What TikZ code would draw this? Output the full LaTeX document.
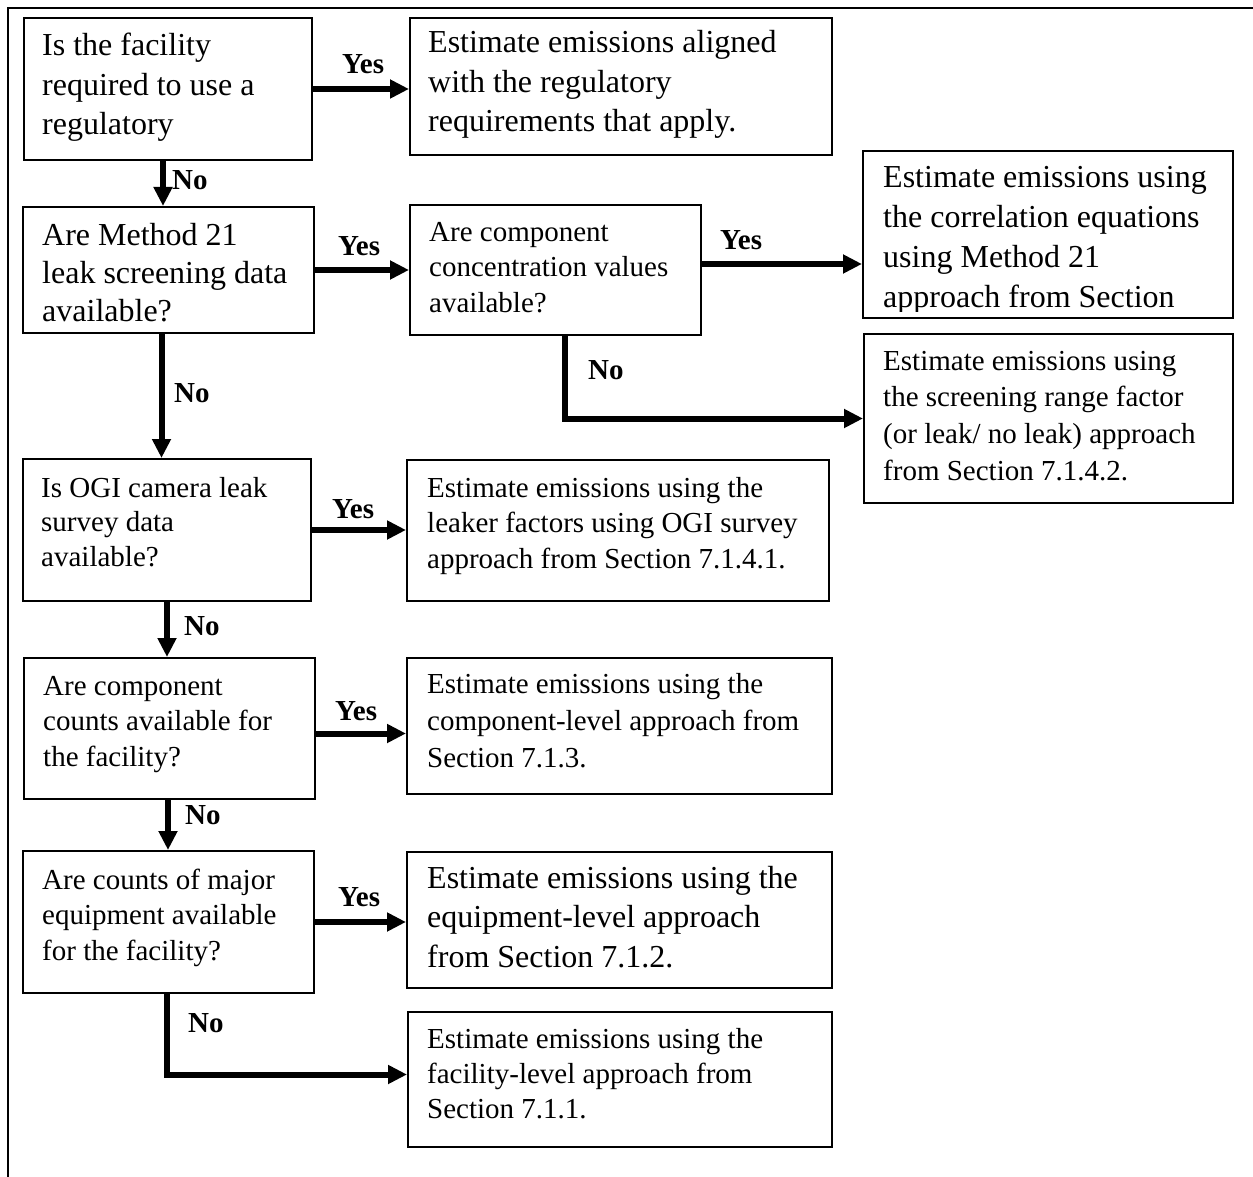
\documentclass[tikz,border=0pt]{standalone}
\usepackage{fontspec}
\setmainfont{Liberation Serif}
\usetikzlibrary{arrows.meta}
\begin{document}
\begin{tikzpicture}[x=1pt,y=-1pt,
  box/.style={draw=black, line width=2pt, inner sep=0pt, anchor=north west},
  txt/.style={anchor=base west, inner sep=0pt, align=flush left, text width=#1},
  big/.style={font=\fontsize{32}{39.5}\selectfont},
  small/.style={font=\fontsize{29}{35.5}\selectfont},
  flow/.style={line width=6pt, -{Triangle[length=19pt,width=18pt]}},
  answer/.style={anchor=base west, inner sep=0pt, font=\fontsize{29}{35}\selectfont\bfseries},
]
\useasboundingbox (0,0) rectangle (1253,1177);

% page frame: top and left edges only
\coordinate (fbl) at (8,1177);
\coordinate (ftl) at (8,8);
\coordinate (ftr) at (1253,8);
\draw[line width=2pt] (fbl) -- (ftl) -- (ftr);

% ---------- boxes ----------
\node[box, minimum width=288pt, minimum height=142pt] (q1)  at (23,17)  {};
\node[box, minimum width=422pt, minimum height=137pt] (r1)  at (409,17) {};
\node[box, minimum width=291pt, minimum height=126pt] (q2)  at (22,206) {};
\node[box, minimum width=291pt, minimum height=130pt] (q3)  at (409,204) {};
\node[box, minimum width=370pt, minimum height=167pt] (r3a) at (862,150) {};
\node[box, minimum width=369pt, minimum height=169pt] (r3b) at (863,333) {};
\node[box, minimum width=288pt, minimum height=142pt] (q4)  at (22,458) {};
\node[box, minimum width=422pt, minimum height=141pt] (r4)  at (406,459) {};
\node[box, minimum width=291pt, minimum height=141pt] (q5)  at (23,657) {};
\node[box, minimum width=425pt, minimum height=136pt] (r5)  at (406,657) {};
\node[box, minimum width=291pt, minimum height=142pt] (q6)  at (22,850) {};
\node[box, minimum width=425pt, minimum height=136pt] (r6)  at (406,851) {};
\node[box, minimum width=424pt, minimum height=135pt] (r7)  at (407,1011) {};

% ---------- box texts ----------
\node[txt=265pt, big]   (q1t) at (42,56)   {Is the facility\\required to use a\\regulatory};
\node[txt=400pt, big]   (r1t) at (428,53)  {Estimate emissions aligned\\with the regulatory\\requirements that apply.};
\node[txt=265pt, font=\fontsize{32}{38.5}\selectfont] (q2t) at (42,245) {Are Method 21\\leak screening data\\available?};
\node[txt=265pt, small] (q3t) at (429,241) {Are component\\concentration values\\available?};
\begin{scope}
  \clip (r3a.north west) rectangle ([yshift=8pt]r3a.south east);
  \node[txt=345pt, font=\fontsize{32}{40}\selectfont] (r3at) at (883,188)
    {Estimate emissions using\\the correlation equations\\using Method 21\\approach from Section};
\end{scope}
\node[txt=345pt, font=\fontsize{29}{36.7}\selectfont] (r3bt) at (883,370)
  {Estimate emissions using\\the screening range factor\\(or leak/ no leak) approach\\from Section 7.1.4.2.};
\node[txt=265pt, font=\fontsize{29}{34.5}\selectfont] (q4t) at (41,497)  {Is OGI camera leak\\survey data\\available?};
\node[txt=400pt, small] (r4t) at (427,497)  {Estimate emissions using the\\leaker factors using OGI survey\\approach from Section 7.1.4.1.};
\node[txt=265pt, small] (q5t) at (43,695)  {Are component\\counts available for\\the facility?};
\node[txt=400pt, font=\fontsize{29}{37}\selectfont] (r5t) at (427,693)  {Estimate emissions using the\\component-level approach from\\Section 7.1.3.};
\node[txt=265pt, small] (q6t) at (42,889)  {Are counts of major\\equipment available\\for the facility?};
\node[txt=400pt, big]   (r6t) at (427,888)  {Estimate emissions using the\\equipment-level approach\\from Section 7.1.2.};
\node[txt=400pt, font=\fontsize{29}{35}\selectfont] (r7t) at (427,1048) {Estimate emissions using the\\facility-level approach from\\Section 7.1.1.};

% ---------- connectors ----------
\draw[flow] (q1.east) -- (q1.east -| r1.west);
\draw[flow] ([xshift=-5pt]q1.south) -- ([xshift=-5pt]q1.south |- q2.north);
\draw[flow] (q2.east) -- (q2.east -| q3.west);
\draw[flow] ([xshift=-7pt]q2.south) -- ([xshift=-7pt]q2.south |- q4.north);
\draw[flow] ([yshift=6pt]q3.east) -- ([yshift=6pt]q3.east -| r3a.west);
\draw[flow] ([xshift=9.5pt]q3.south) |- (r3b.west);
\draw[flow] (q4.east) -- (q4.east -| r4.west);
\draw[flow] (q4.south) -- (q4.south |- q5.north);
\draw[flow] ([yshift=-5pt]q5.east) -- ([yshift=-5pt]q5.east -| r5.west);
\draw[flow] ([xshift=-1.5pt]q5.south) -- ([xshift=-1.5pt]q5.south |- q6.north);
\draw[flow] (q6.east) -- (q6.east -| r6.west);
\draw[flow] ([xshift=-1.5pt]q6.south) |- ([yshift=5pt]r7.west);

% ---------- answer labels ----------
\node[answer] (y1) at (342,74)   {Yes};
\node[answer] (n1) at (172,190)  {No};
\node[answer] (y2) at (338,255)  {Yes};
\node[answer] (n2) at (174,402)  {No};
\node[answer] (y3) at (720,250)  {Yes};
\node[answer] (n3) at (588,379)  {No};
\node[answer] (y4) at (332,518)  {Yes};
\node[answer] (n4) at (184,635)  {No};
\node[answer] (y5) at (335,720)  {Yes};
\node[answer] (n5) at (185,824)  {No};
\node[answer] (y6) at (338,906)  {Yes};
\node[answer] (n6) at (188,1032) {No};
\end{tikzpicture}
\end{document}
